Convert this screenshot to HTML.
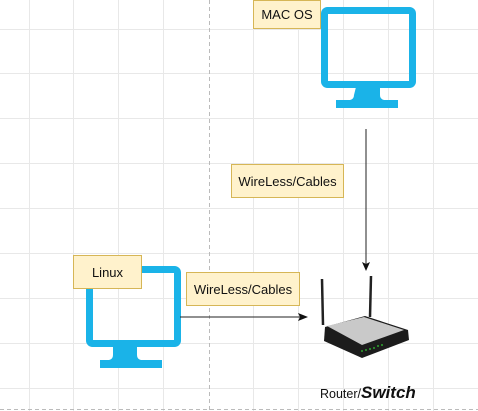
<!DOCTYPE html>
<html><head><style>
body{margin:0;width:478px;height:411px;overflow:hidden;background:#fff;font-family:"Liberation Sans",sans-serif;position:relative}
.lbl{position:absolute;background:#fff2cc;border:1px solid #d6b656;box-sizing:border-box;font-size:13px;display:flex;align-items:center;justify-content:center;color:#111}
</style></head><body>
<svg width="478" height="411" style="position:absolute;left:0;top:0">
<g stroke="#e8e8e8" stroke-width="1">
<line x1="29.5" y1="0" x2="29.5" y2="411"/><line x1="73.5" y1="0" x2="73.5" y2="411"/><line x1="118.5" y1="0" x2="118.5" y2="411"/><line x1="163.5" y1="0" x2="163.5" y2="411"/>
<line x1="253.5" y1="0" x2="253.5" y2="411"/><line x1="298.5" y1="0" x2="298.5" y2="411"/><line x1="343.5" y1="0" x2="343.5" y2="411"/><line x1="388.5" y1="0" x2="388.5" y2="411"/><line x1="433.5" y1="0" x2="433.5" y2="411"/>
<line x1="0" y1="29.5" x2="478" y2="29.5"/><line x1="0" y1="73.5" x2="478" y2="73.5"/><line x1="0" y1="118.5" x2="478" y2="118.5"/><line x1="0" y1="163.5" x2="478" y2="163.5"/><line x1="0" y1="208.5" x2="478" y2="208.5"/><line x1="0" y1="253.5" x2="478" y2="253.5"/><line x1="0" y1="298.5" x2="478" y2="298.5"/><line x1="0" y1="343.5" x2="478" y2="343.5"/><line x1="0" y1="388.5" x2="478" y2="388.5"/>
</g>
<line x1="209.5" y1="0" x2="209.5" y2="411" stroke="#bbb" stroke-dasharray="4,3"/>
<line x1="0" y1="409.5" x2="478" y2="409.5" stroke="#bbb" stroke-dasharray="4,3"/>
<!-- Mac monitor -->
<rect x="324.5" y="10.5" width="88" height="74" rx="3" fill="none" stroke="#1ab3e8" stroke-width="7"/>
<path d="M356 87h24v8q0 4 4 5h14v8h-62v-8h14q4-1 4-5z" fill="#1ab3e8"/>
<!-- Linux monitor -->
<rect x="89.5" y="269.5" width="88" height="74" rx="3" fill="none" stroke="#1ab3e8" stroke-width="7"/>
<path d="M113 347h24v8q0 4 4 5h21v8h-62v-8h9q4-1 4-5z" fill="#1ab3e8"/>
<!-- connectors -->
<line x1="366" y1="129" x2="366" y2="264" stroke="#222" stroke-width="1"/>
<path d="M362 262l4 9l4-9l-4 2z" fill="#111"/>
<line x1="180" y1="317" x2="300" y2="317" stroke="#222" stroke-width="1"/>
<path d="M298 313l10 4l-10 4l2-4z" fill="#111"/>
<!-- router -->
<line x1="322" y1="279" x2="323" y2="325" stroke="#222" stroke-width="2.5"/>
<line x1="371" y1="276" x2="370" y2="317" stroke="#222" stroke-width="2.5"/>
<path d="M325 327l40-11l43 14l1 10l-47 18l-38-17z" fill="#1c1c1c"/>
<path d="M327 326l37-9l40 13l-42 15z" fill="#c9c9c9"/>
<g fill="#3c3">
<circle cx="362" cy="351" r=".9"/><circle cx="366" cy="350" r=".9"/><circle cx="370" cy="349" r=".9"/><circle cx="374" cy="348" r=".9"/><circle cx="378" cy="346" r=".9"/><circle cx="382" cy="345" r=".9"/></g>
</svg>
<div class="lbl" style="left:253px;top:0;width:68px;height:29px">MAC OS</div>
<div class="lbl" style="left:231px;top:164px;width:113px;height:34px">WireLess/Cables</div>
<div class="lbl" style="left:73px;top:255px;width:69px;height:34px">Linux</div>
<div class="lbl" style="left:186px;top:272px;width:114px;height:34px">WireLess/Cables</div>
<div style="position:absolute;left:320px;top:383px;font-size:12.5px;color:#111;white-space:nowrap">Router/<b style="font-style:italic;font-size:17px">Switch</b></div>
</body></html>
